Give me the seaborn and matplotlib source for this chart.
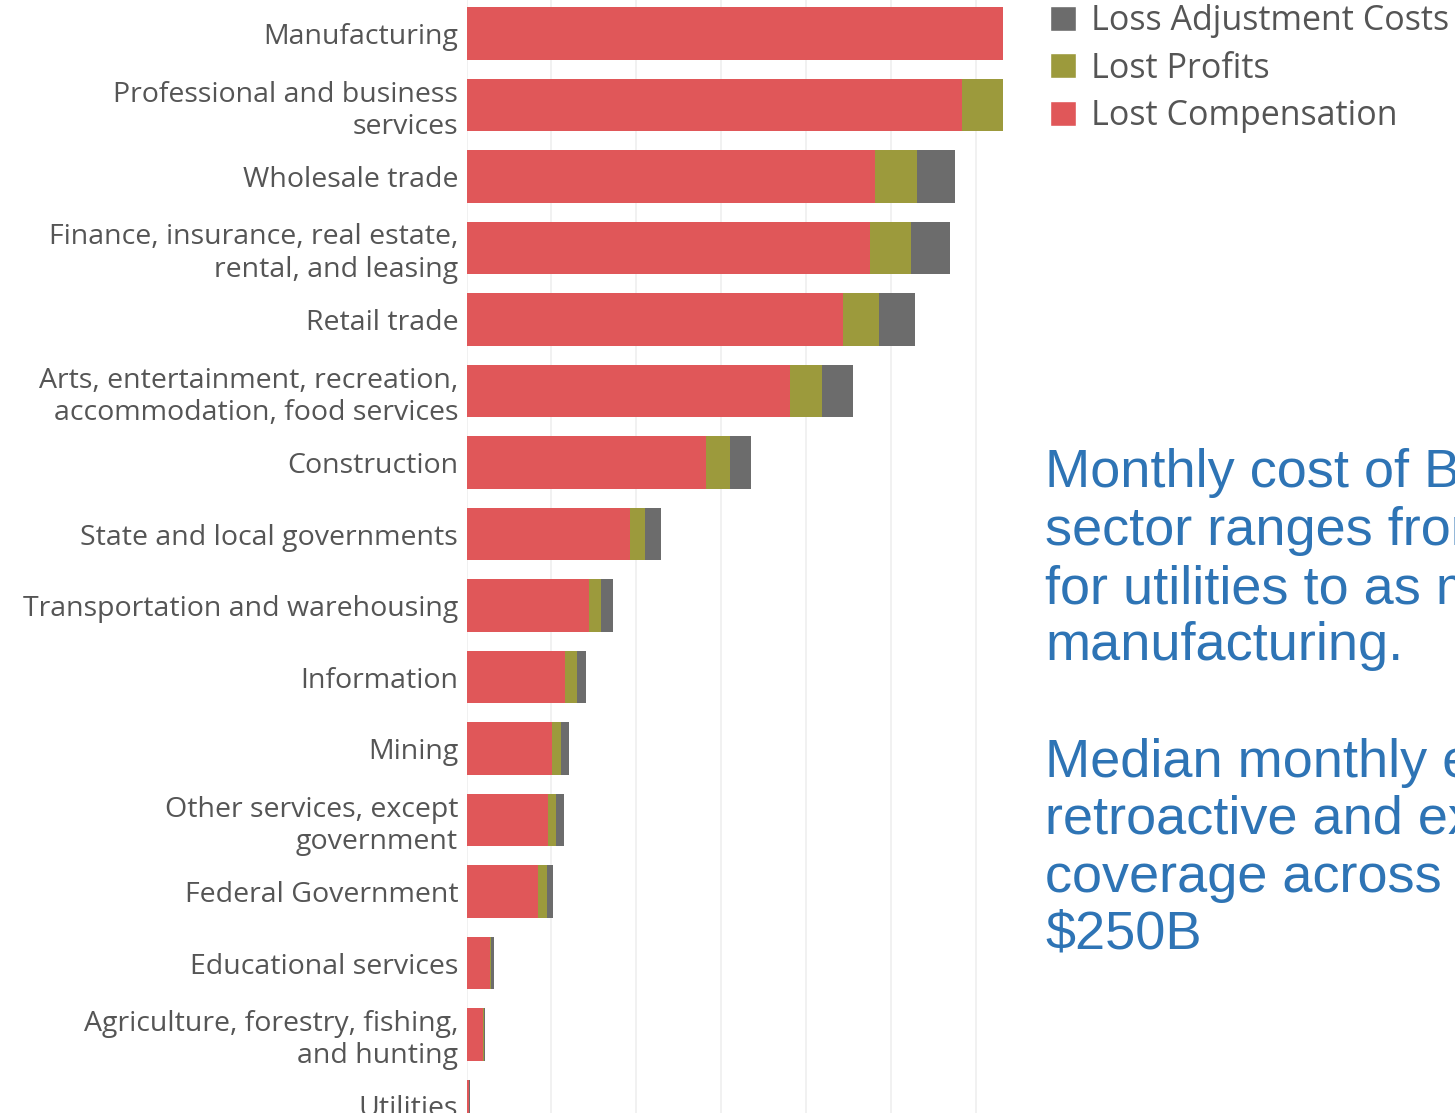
import matplotlib
matplotlib.use("Agg")
import matplotlib.pyplot as plt
import seaborn as sns
import pandas as pd
import numpy as np
from matplotlib.patches import Patch

# ---------------- data (monthly cost, $B) ----------------
sectors = [
    "Manufacturing",
    "Professional and business\nservices",
    "Wholesale trade",
    "Finance, insurance, real estate,\nrental, and leasing",
    "Retail trade",
    "Arts, entertainment, recreation,\naccommodation, food services",
    "Construction",
    "State and local governments",
    "Transportation and warehousing",
    "Information",
    "Mining",
    "Other services, except\ngovernment",
    "Federal Government",
    "Educational services",
    "Agriculture, forestry, fishing,\nand hunting",
    "Utilities",
]
lost_compensation = [32.5, 29.2, 24.06, 23.76, 22.17, 19.05, 14.10, 9.63,
                     7.21, 5.80, 5.04, 4.80, 4.21, 1.38, 0.97, 0.13]
lost_profits = [2.6, 2.5, 2.47, 2.41, 2.12, 1.88, 1.41, 0.88,
                0.71, 0.71, 0.53, 0.47, 0.53, 0.06, 0.06, 0.04]
loss_adjustment = [2.2, 2.2, 2.24, 2.30, 2.12, 1.83, 1.24, 0.94,
                   0.71, 0.53, 0.47, 0.47, 0.35, 0.18, 0.06, 0.04]

legend_labels = ["Loss Adjustment Costs", "Lost Profits", "Lost Compensation"]

para1 = ["Monthly cost of BI by", "sector ranges from", "for utilities to as much as", "manufacturing."]
para2 = ["Median monthly estimate of", "retroactive and extended", "coverage across all sectors:", "$250B"]

RED = "#E05759"
OLIVE = "#9C9A3C"
GRAY = "#6C6C6C"
LABEL = "#555555"
BLUE = "#2E74B5"

df = pd.DataFrame({
    "sector": sectors,
    "comp": lost_compensation,
    "profit": lost_profits,
    "adj": loss_adjustment,
})
df["comp_profit"] = df["comp"] + df["profit"]
df["total"] = df["comp_profit"] + df["adj"]

sns.set_theme(style="white")
plt.rcParams["font.family"] = ["Open Sans", "DejaVu Sans"]

W, H = 1455, 1113
fig = plt.figure(figsize=(W / 100, H / 100), dpi=100)
ax = fig.add_axes([466.5 / W, 0, 536.5 / W, 1])

for col, c in [("total", GRAY), ("comp_profit", OLIVE), ("comp", RED)]:
    sns.barplot(data=df, y="sector", x=col, order=sectors, color=c,
                saturation=1, width=0.74, orient="h", errorbar=None,
                linewidth=0, ax=ax)

ppu = 16.98
ax.set_xlim(0, 536.5 / ppu)
ax.set_ylim(15 + 7 / 71.5, -0.5 + 2.25 / 71.5)
ax.set_xticks(np.arange(0, 35, 5))
ax.xaxis.grid(True, color="#f0f0f0", lw=1.3)
ax.set_axisbelow(True)
ax.tick_params(axis="x", labelbottom=False, length=0)
ax.tick_params(axis="y", length=0, pad=6, labelsize=20.5, labelcolor=LABEL)
for t in ax.get_yticklabels():
    t.set_linespacing(1.2)
    t.set_fontweight("medium")
ax.set_xlabel("")
ax.set_ylabel("")
for s in ax.spines.values():
    s.set_visible(False)

handles = [Patch(facecolor=GRAY), Patch(facecolor=OLIVE), Patch(facecolor=RED)]
fig.legend(handles, legend_labels, loc="upper left",
           bbox_to_anchor=(1050 / W, 1 - 4 / H), frameon=False,
           fontsize=24.5, labelcolor=LABEL, handlelength=0.76,
           handleheight=0.76, handletextpad=0.44, labelspacing=0.40,
           borderpad=0, borderaxespad=0)

for txt, yb in zip(para1, [487, 545, 603, 660]):
    fig.text(1045 / W, 1 - yb / H, txt, fontsize=39, color=BLUE,
             family=["Liberation Sans"], va="baseline", ha="left")
for txt, yb in zip(para2, [777, 834, 892, 948]):
    fig.text(1045 / W, 1 - yb / H, txt, fontsize=39, color=BLUE,
             family=["Liberation Sans"], va="baseline", ha="left")

fig.savefig("out.png", dpi=100)
